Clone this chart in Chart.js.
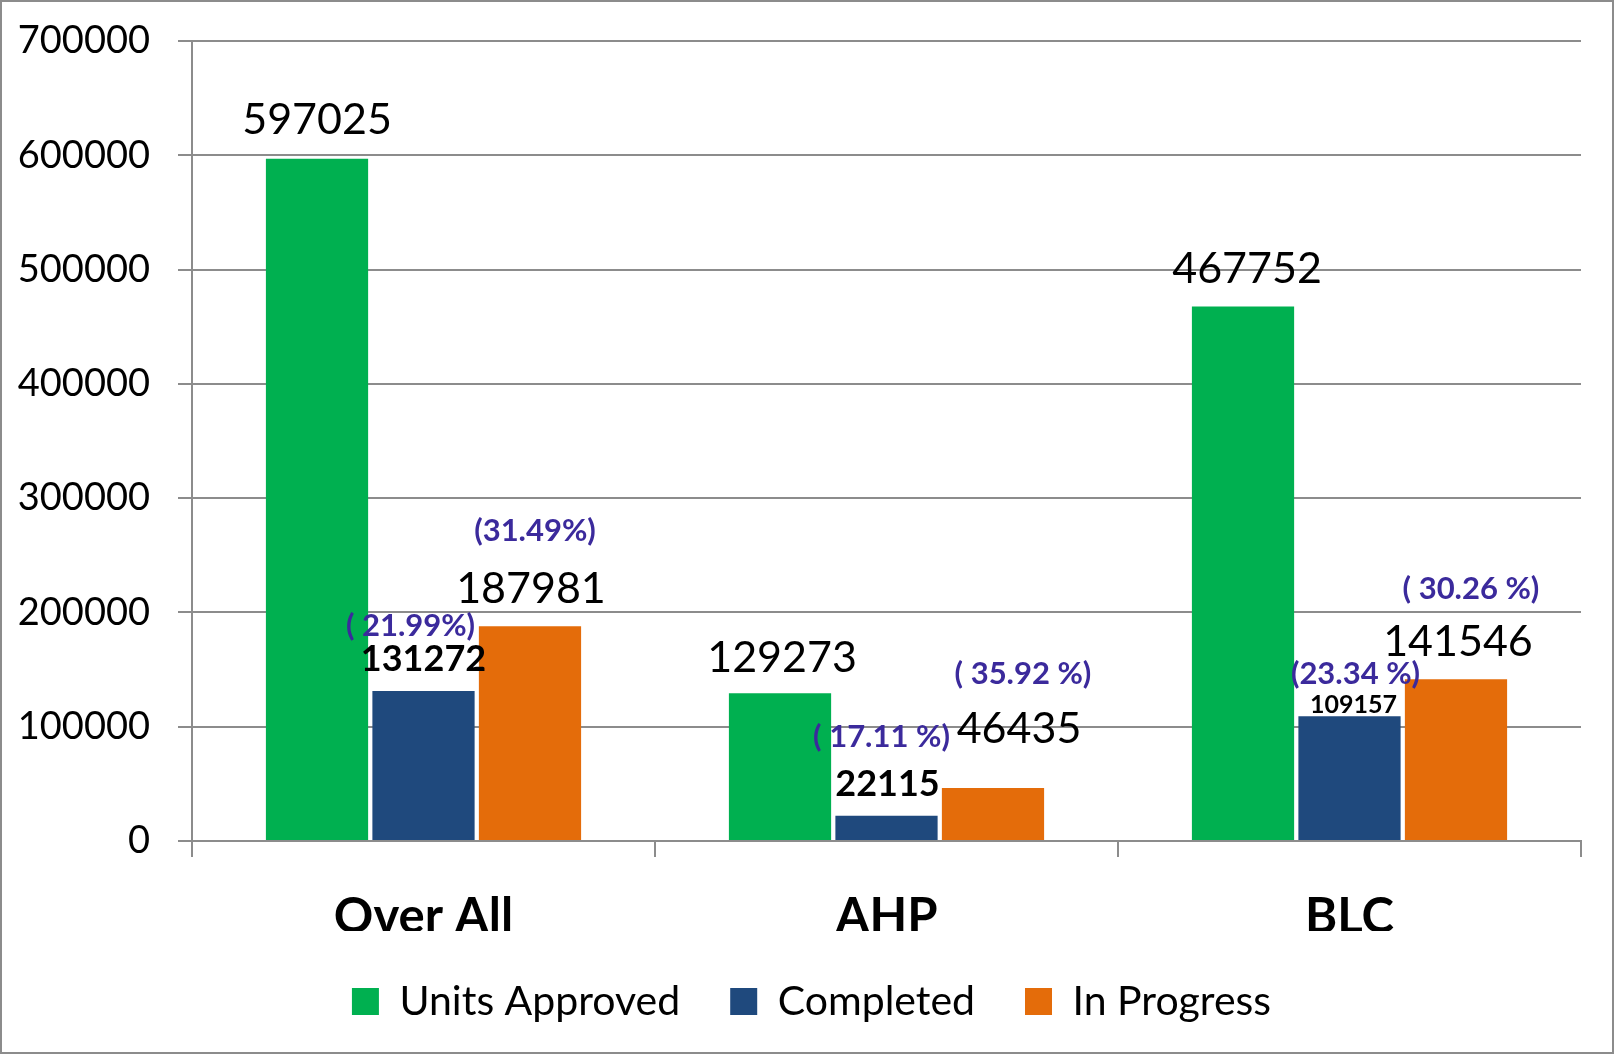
<!DOCTYPE html>
<html>
<head>
<meta charset="utf-8">
<script src="https://cdn.jsdelivr.net/npm/chart.js@4"></script>
<style>
    body { margin: 0; background: #fff; }
    #wrap { position: relative; width: 1614px; height: 1054px; }
</style>
</head>
<body>
<div id="wrap"><canvas id="unitsChart" width="1614" height="1054"></canvas></div>
<script>
// Chart data
const categories = ['Over All', 'AHP', 'BLC'];
const unitsApproved = [597025, 129273, 467752];
const completed = [131272, 22115, 109157];
const inProgress = [187981, 46435, 141546];
const completedPct = ['( 21.99%)', '( 17.11 %)', '(23.34 %)'];
const inProgressPct = ['(31.49%)', '( 35.92 %)', '( 30.26 %)'];
const yTicks = [0, 100000, 200000, 300000, 400000, 500000, 600000, 700000];

const FONT = 'Lato, "Open Sans", sans-serif';
const PURPLE = '#3b2a9c';

// label placement tweaks [dx, gap above bar top], per dataset then per category
const valueNudge = [
    [[0, 25], [2, 21], [4, 23]],
    [[0, 20], [1, 20], [4, 3]],
    [[1, 23], [26, 45], [2, 23]]
];
const valueFont = [
    ['400 43px', '400 43px', '400 43px'],
    ['700 36px', '700 36px', '700 25px'],
    ['400 43px', '400 43px', '400 43px']
];
// pct labels [dx, centre above bar top]
const pctNudge = [
    null,
    [[-13, 65], [-5, 79], [6, 42]],
    [[5, 95], [30, 114], [15, 90]]
];

const barLabels = {
    id: 'barLabels',
    afterDatasetsDraw(chart) {
        const ctx = chart.ctx;
        const pcts = [null, completedPct, inProgressPct];
        ctx.save();
        ctx.textAlign = 'center';
        chart.data.datasets.forEach((ds, i) => {
            const meta = chart.getDatasetMeta(i);
            meta.data.forEach((bar, j) => {
                const [dx, gap] = valueNudge[i][j];
                ctx.font = valueFont[i][j] + ' ' + FONT;
                ctx.fillStyle = '#000';
                ctx.textBaseline = 'alphabetic';
                ctx.fillText(String(ds.data[j]), bar.x + dx, bar.y - gap);
                if (pcts[i]) {
                    const [px, py] = pctNudge[i][j];
                    ctx.font = '700 31px ' + FONT;
                    ctx.fillStyle = PURPLE;
                    ctx.textBaseline = 'middle';
                    ctx.fillText(pcts[i][j], bar.x + px, bar.y - py);
                }
            });
        });
        ctx.restore();
    }
};

const frame = {
    id: 'frame',
    afterLayout(chart) {
        // legend sits a little right of centre in the original
        chart.legend.left += 21;
        chart.legend.right += 21;
    },
    beforeDraw(chart) {
        const ctx = chart.ctx;
        ctx.save();
        ctx.fillStyle = '#fff';
        ctx.fillRect(0, 0, chart.width, chart.height);
        ctx.restore();
    },
    afterDraw(chart) {
        const ctx = chart.ctx;
        ctx.save();
        ctx.strokeStyle = '#8c8c8c';
        ctx.lineWidth = 2;
        ctx.strokeRect(1, 1, chart.width - 2, chart.height - 2);
        ctx.restore();
    }
};

new Chart(document.getElementById('unitsChart'), {
    type: 'bar',
    data: {
        labels: categories,
        datasets: [
            { label: 'Units Approved', data: unitsApproved, backgroundColor: '#00b050' },
            { label: 'Completed', data: completed, backgroundColor: '#1f497d' },
            { label: 'In Progress', data: inProgress, backgroundColor: '#e46c0a' }
        ]
    },
    options: {
        responsive: false,
        animation: false,
        categoryPercentage: 0.69,
        barPercentage: 0.96,
        layout: { padding: { left: 0, right: 33, top: 41, bottom: 22 } },
        plugins: {
            legend: {
                position: 'bottom',
                labels: {
                    boxWidth: 27,
                    boxHeight: 27,
                    padding: 50,
                    color: '#000',
                    font: { family: FONT, size: 41 }
                }
            },
            tooltip: { enabled: false }
        },
        scales: {
            x: {
                grid: {
                    drawOnChartArea: false,
                    drawTicks: true,
                    tickLength: 16,
                    color: '#8c8c8c',
                    lineWidth: 2
                },
                border: { color: '#8c8c8c', width: 2 },
                ticks: {
                    color: '#000',
                    padding: 31,
                    font: { family: FONT, size: 49, weight: '700' }
                },
                afterFit(scale) { scale.height = 90; }
            },
            y: {
                min: 0,
                max: 700000,
                afterBuildTicks(scale) {
                    scale.ticks = yTicks.map(v => ({ value: v }));
                },
                grid: { color: '#8c8c8c', lineWidth: 2, tickLength: 14 },
                border: { color: '#8c8c8c', width: 2 },
                ticks: {
                    color: '#000',
                    padding: 28,
                    font: { family: FONT, size: 38 },
                    callback: v => String(v)
                },
                afterFit(scale) {
                    scale.width = 192;
                    scale.paddingTop = 0;
                    scale.paddingBottom = 0;
                }
            }
        }
    },
    plugins: [frame, barLabels]
});
</script>
</body>
</html>
